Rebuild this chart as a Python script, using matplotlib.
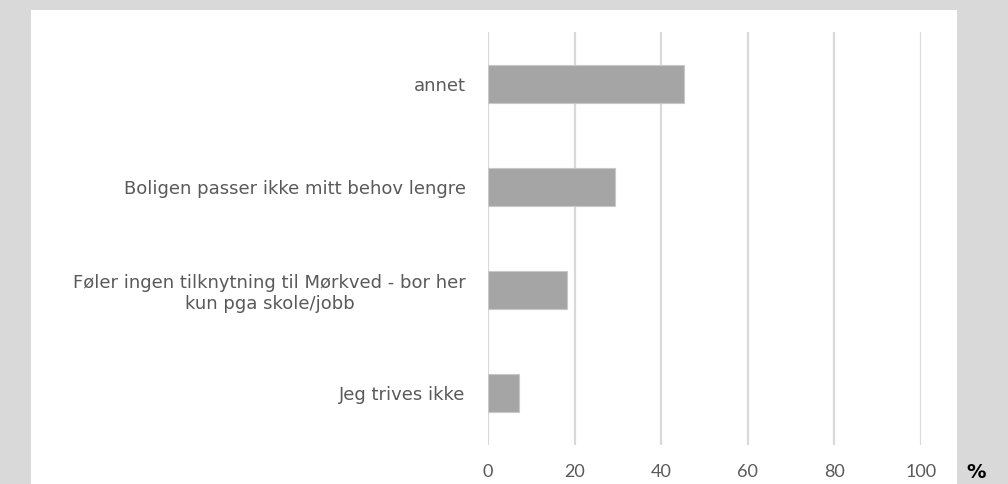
import matplotlib
matplotlib.use("Agg")
import matplotlib.pyplot as plt
from matplotlib.patches import Rectangle

# data (percent)
categories = ["Jeg trives ikke",
              "Føler ingen tilknytning til Mørkved - bor her\nkun pga skole/jobb",
              "Boligen passer ikke mitt behov lengre",
              "annet"]
values = [7.2, 18.3, 29.4, 45.3]
ticks = [0, 20, 40, 60, 80, 100]

W, H = 1008, 484
fig = plt.figure(figsize=(W / 100, H / 100), dpi=100, facecolor="#d9d9d9")

# white chart area
fig.add_artist(Rectangle((31 / W, 0), (957 - 31) / W, (H - 10) / H,
                         transform=fig.transFigure, facecolor="white",
                         edgecolor="none", zorder=0))

ax = fig.add_axes([488 / W, (H - 445) / H, (921 - 488) / W, (445 - 32) / H])
ax.set_facecolor("none")
ax.barh(range(len(values)), values, height=0.37, color="#a5a5a5",
        edgecolor="#c8c8c8", linewidth=0.8, zorder=3)

ax.set_xlim(0, 100)
ax.set_ylim(-0.5, len(values) - 0.5)
ax.set_xticks(ticks)
ax.grid(axis="x", color="#d9d9d9", linewidth=1.6, zorder=0)
for s in ax.spines.values():
    s.set_visible(False)

ax.set_yticks(range(len(values)))
ax.set_yticklabels(categories, ha="right", multialignment="center")
ax.tick_params(axis="y", length=0, pad=16, labelsize=13, labelcolor="#595959")

ax.tick_params(axis="x", length=0, pad=14, labelsize=13, labelcolor="#595959")
for lab in ax.get_xticklabels():
    lab.set_fontfamily("Lato")

fig.text(966 / W, 1 - 472 / H, "%", fontsize=14, color="black",
         fontweight="bold", ha="left", va="center")

fig.savefig("out.png", dpi=100, facecolor=fig.get_facecolor())
